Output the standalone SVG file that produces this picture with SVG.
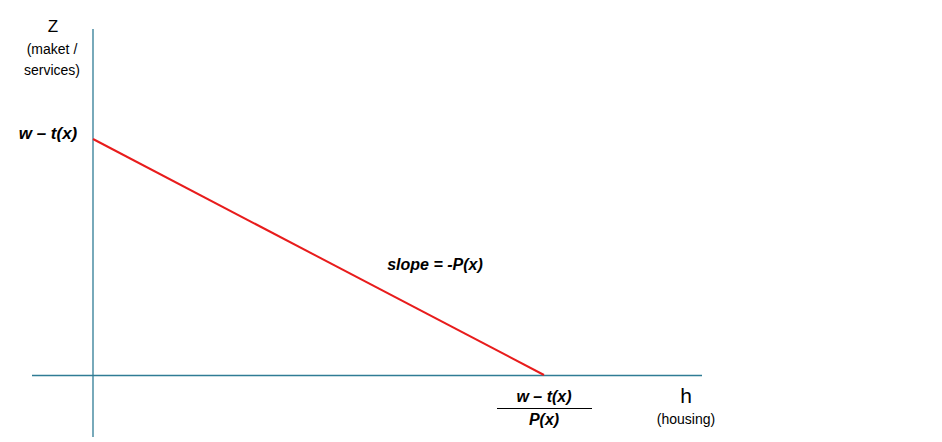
<svg xmlns="http://www.w3.org/2000/svg" width="942" height="442" viewBox="0 0 942 442">
<style>
.ax{stroke:#2F7C95;stroke-width:1.3;fill:none}
.t{font-family:"Liberation Sans",Arial,sans-serif;fill:#000}
.bi{font-weight:bold;font-style:italic;font-size:16px}
.s{font-size:14px}
</style>
<rect width="942" height="442" fill="#fff"/>
<g id="connectors">
<line class="ax" x1="93" y1="29" x2="93" y2="437"/>
<line class="ax" x1="32" y1="375.5" x2="702" y2="375.5"/>
<line x1="93" y1="139" x2="544" y2="375" stroke="#E81C1C" stroke-width="2"/>
<line x1="497" y1="408.5" x2="592" y2="408.5" stroke="#000" stroke-width="1.2"/>
</g>
<g id="z-label">
<text class="t" x="53" y="32" text-anchor="middle" font-size="17">Z</text>
<text class="t s" x="52" y="54" text-anchor="middle">(maket /</text>
<text class="t s" x="52" y="75" text-anchor="middle">services)</text>
</g>
<g id="intercept-label">
<text class="t bi" x="48" y="139" text-anchor="middle" font-size="17px" style="font-size:17px">w – t(x)</text>
</g>
<g id="slope-label">
<text class="t bi" x="435" y="270" text-anchor="middle">slope = -P(x)</text>
</g>
<g id="h-intercept-label">
<text class="t bi" x="544" y="402" text-anchor="middle">w – t(x)</text>
<text class="t bi" x="544" y="425" text-anchor="middle">P(x)</text>
</g>
<g id="h-label">
<text class="t" x="686" y="403" text-anchor="middle" font-size="21">h</text>
<text class="t s" x="686" y="424" text-anchor="middle">(housing)</text>
</g>
</svg>
